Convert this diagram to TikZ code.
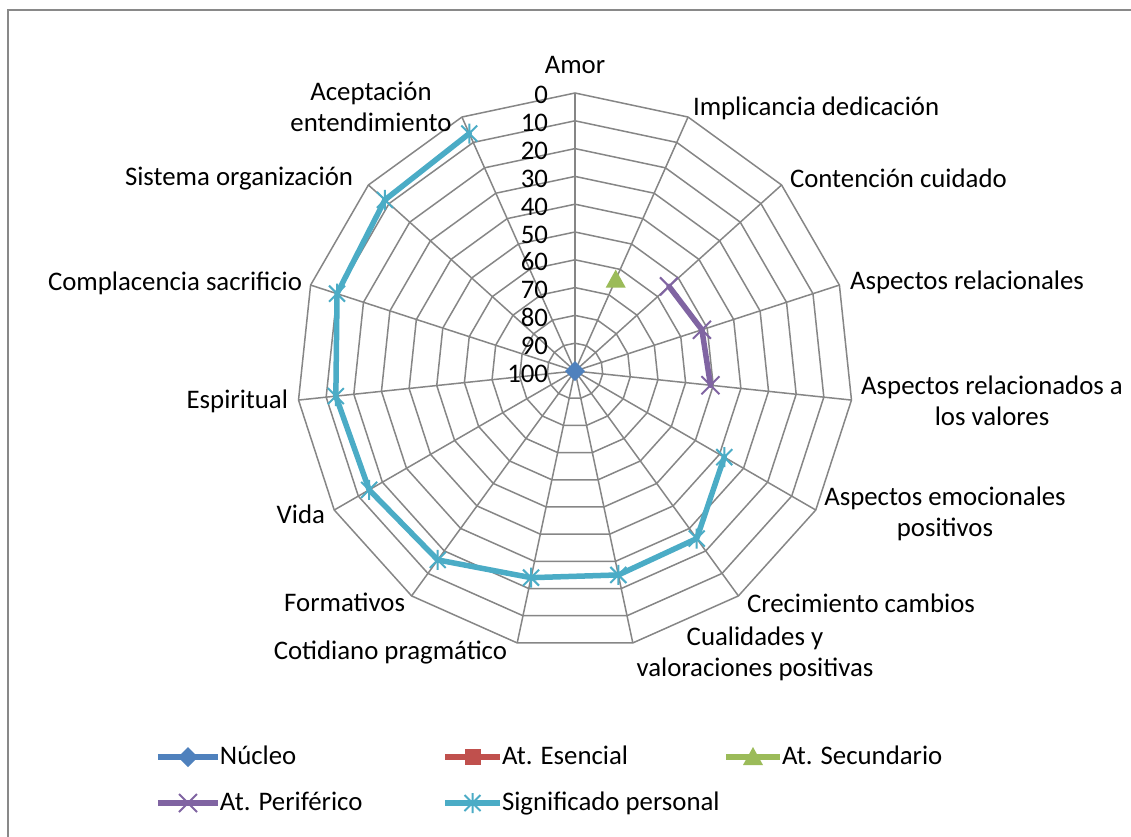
\documentclass[tikz,border=0pt]{standalone}
\usepackage{fontspec}
\setmainfont{Carlito}
\usetikzlibrary{calc}
\definecolor{gridc}{HTML}{868686}
\definecolor{borderc}{HTML}{898989}
\definecolor{cnuc}{HTML}{4F81BD}
\definecolor{cese}{HTML}{C0504D}
\definecolor{csec}{HTML}{9BBB59}
\definecolor{cper}{HTML}{8064A2}
\definecolor{csig}{HTML}{4BACC6}
\tikzset{
  gridline/.style={draw=gridc, line width=1.5pt},
  lbl/.style={font=\fontsize{26.8}{31}\selectfont, inner sep=0pt, outer sep=0pt, text=black},
  tick/.style={lbl, anchor=base east},
  serline/.style={line width=5.5pt, line join=round, line cap=round},
  diamk/.pic={\fill[cnuc] (0,10) -- (10,0) -- (0,-10) -- (-10,0) -- cycle;},
  sqmk/.pic={\fill[cese] (-8,-8) rectangle (8,8);},
  trimk/.pic={\fill[csec] (0,10) -- (10,-8) -- (-10,-8) -- cycle;},
  xmk/.pic={\draw[cper, line width=2pt] (-9,-9) -- (9,9) (-9,9) -- (9,-9);},
  starmk/.pic={\draw[csig, line width=2pt] (-8,-8) -- (8,8) (-8,8) -- (8,-8) (0,-10) -- (0,10);}
}
\begin{document}
\begin{tikzpicture}[x=1pt,y=1pt]
\useasboundingbox (-575,-465) rectangle (556,371);
\fill[white] (-575,-465) rectangle (556,371);
% frame
\draw[borderc, line width=2pt] (-567,-466) -- (-567,361) -- (557,361);
% grid rings
\foreach \j in {1,...,10} {
  \draw[gridline] (90:\j*27.8) \foreach \k in {1,...,14} { -- ({90-24*\k}:\j*27.8) } -- cycle;
}
% spokes
\coordinate (c) at (0,0);
\foreach \k in {0,...,14} {
  \coordinate (o\k) at ({90-24*\k}:278);
  \draw[gridline] (c) -- (o\k);
}
% tick labels
\foreach \v in {0,10,...,100} {
  \node[tick] (t\v) at (-27,{(100-\v)*2.78-11}) {\v};
}
% category labels
\node[lbl, anchor=base] (amor) at (0,298) {Amor};
\node[lbl, anchor=base west] (impl) at (118,255.5) {Implicancia dedicación};
\node[lbl, anchor=base west] (cont) at (215,183.5) {Contención cuidado};
\node[lbl, anchor=base west] (arel) at (275,81.5) {Aspectos relacionales};
\node[lbl, anchor=base, align=center] (aval) at (417,-54) {Aspectos relacionados a\\los valores};
\node[lbl, anchor=base, align=center] (aemo) at (370,-165.5) {Aspectos emocionales\\positivos};
\node[lbl, anchor=base west] (crec) at (172,-241.5) {Crecimiento cambios};
\node[lbl, anchor=base, align=center] (cual) at (180,-305) {Cualidades y\\valoraciones positivas};
\node[lbl, anchor=base east] (coti) at (-68,-288.5) {Cotidiano pragmático};
\node[lbl, anchor=base east] (form) at (-170,-240.5) {Formativos};
\node[lbl, anchor=base east] (vida) at (-250,-152.5) {Vida};
\node[lbl, anchor=base east] (espi) at (-287,-37.5) {Espiritual};
\node[lbl, anchor=base east] (comp) at (-273,80.5) {Complacencia sacrificio};
\node[lbl, anchor=base east] (sist) at (-222,185.5) {Sistema organización};
\node[lbl, anchor=base, align=center] (acep) at (-204,240) {Aceptación\\entendimiento};
% data: Significado personal
\foreach \k/\v in {5/38,6/25.5,7/25,8/24,9/16,10/14.5,11/13.5,12/10,13/8,14/6.5} {
  \coordinate (s\k) at ({90-24*\k}:{(100-\v)*2.78});
}
\draw[serline, csig] (s5) -- (s6) -- (s7) -- (s8) -- (s9) -- (s10) -- (s11) -- (s12) -- (s13) -- (s14);
\foreach \k in {5,...,14} { \pic at (s\k) {starmk}; }
% data: At. Periferico
\foreach \k/\v in {2/54.5,3/52,4/51} {
  \coordinate (p\k) at ({90-24*\k}:{(100-\v)*2.78});
}
\draw[serline, cper] (p2) -- (p3) -- (p4);
\foreach \k in {2,3,4} { \pic at (p\k) {xmk}; }
% data: At. Secundario
\coordinate (q1) at ({90-24}:{(100-64)*2.78});
\pic at (q1) {trimk};
% data: Nucleo
\coordinate (n0) at (c);
\pic at (n0) {diamk};
% legend
\coordinate (l1a) at (-417,-386); \coordinate (l1b) at (-357,-386);
\coordinate (l2a) at (-130,-386); \coordinate (l2b) at (-75,-386);
\coordinate (l3a) at (151,-386);  \coordinate (l3b) at (205,-386);
\coordinate (l4a) at (-417,-432); \coordinate (l4b) at (-357,-432);
\coordinate (l5a) at (-130,-432); \coordinate (l5b) at (-75,-432);
\draw[serline, cnuc, line cap=butt] (l1a) -- (l1b); \pic at ($(l1a)!0.5!(l1b)$) {diamk};
\draw[serline, cese, line cap=butt] (l2a) -- (l2b); \pic at ($(l2a)!0.5!(l2b)$) {sqmk};
\draw[serline, csec, line cap=butt] (l3a) -- (l3b); \pic at ($(l3a)!0.5!(l3b)$) {trimk};
\draw[serline, cper, line cap=butt] (l4a) -- (l4b); \pic at ($(l4a)!0.5!(l4b)$) {xmk};
\draw[serline, csig, line cap=butt] (l5a) -- (l5b); \pic at ($(l5a)!0.5!(l5b)$) {starmk};
\node[lbl, anchor=base west] (lg1) at (-355,-393.5) {Núcleo};
\node[lbl, anchor=base west] (lg2) at (-73,-393.5) {At. Esencial};
\node[lbl, anchor=base west] (lg3) at (207,-393.5) {At. Secundario};
\node[lbl, anchor=base west] (lg4) at (-355,-439.5) {At. Periférico};
\node[lbl, anchor=base west] (lg5) at (-73,-439.5) {Significado personal};
\end{tikzpicture}
\end{document}
